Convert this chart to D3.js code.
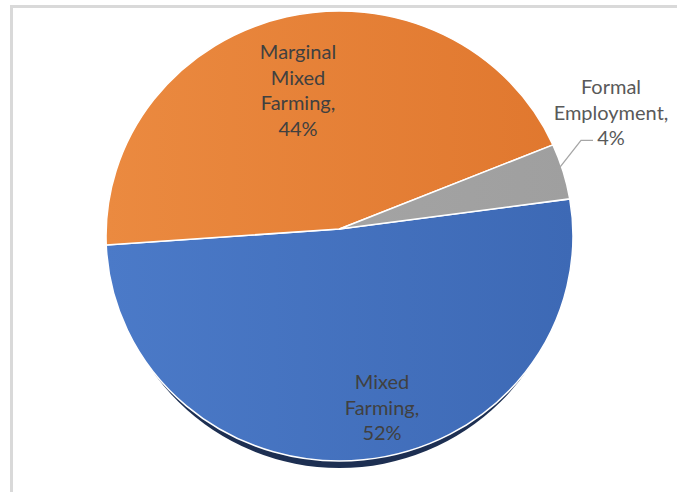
<!DOCTYPE html>
<html>
<head>
<meta charset="utf-8">
<script src="https://cdn.jsdelivr.net/npm/d3@7"></script>
<style>
  html, body { margin: 0; padding: 0; background: #fff; }
  svg { display: block; }
  .lbl { font-family: Lato, "Open Sans", sans-serif; font-size: 20px; }
</style>
</head>
<body>
<div class="chart_pie"></div>
<script>
// data
var categories = ["Mixed Farming", "Marginal Mixed Farming", "Formal Employment"];
var values = [52, 44, 4];
var labelLines = [["Mixed", "Farming,", "52%"], ["Marginal", "Mixed", "Farming,", "44%"], ["Formal", "Employment,", "4%"]];

var colors = [["#4b7ac8", "#3d69b5"], ["#eb8a40", "#e0772e"], ["#a8a8a8", "#9f9f9f"]];

var width = 677, height = 492;
var cx = 339.5, cy = 236, rx = 233.5, ry = 225;
var apexShift = -7;   // slices meet a little above the centre (tilted look)

// label anchors (centre of first line), in page pixels
var labelPos = [[382, 382], [298, 52], [611, 87]];
var lineGap = 25.7;

var svg = d3.select('.chart_pie').append("svg")
  .attr("width", width)
  .attr("height", height);

// chart area frame
svg.append("rect")
  .attr("x", 11.5).attr("y", 6.5)
  .attr("width", 700).attr("height", 500)
  .attr("fill", "none")
  .attr("stroke", "#d9d9d9")
  .attr("stroke-width", 3);

var defs = svg.append("defs");
colors.forEach(function(c, i) {
  var g = defs.append("linearGradient")
    .attr("id", "grad" + i)
    .attr("gradientUnits", "userSpaceOnUse")
    .attr("x1", -rx).attr("y1", 0).attr("x2", rx).attr("y2", 0);
  g.append("stop").attr("offset", "0%").attr("stop-color", c[0]);
  g.append("stop").attr("offset", "100%").attr("stop-color", c[1]);
});

var startA = 80.5 * Math.PI / 180;
var pie = d3.pie().sort(null).startAngle(startA).endAngle(startA + 2 * Math.PI);
var arcs = pie(values);

var sy = ry / rx;
var apexY = apexShift / sy;

// slice outline: apex -> rim -> arc along rim -> back to apex
function slicePath(d) {
  var p = d3.path();
  var a0 = d.startAngle - Math.PI / 2, a1 = d.endAngle - Math.PI / 2;
  p.moveTo(0, apexY);
  p.lineTo(rx * Math.cos(a0), rx * Math.sin(a0));
  p.arc(0, 0, rx, a0, a1);
  p.closePath();
  return p.toString();
}

// shadow under the pie, only shows along the bottom
svg.append("ellipse")
  .attr("cx", cx).attr("cy", cy + 7)
  .attr("rx", rx - 6).attr("ry", ry)
  .attr("fill", "#1d2f52");

var g = svg.append("g")
  .attr("transform", "translate(" + cx + "," + cy + ") scale(1," + sy + ")");

g.selectAll("path.slice")
  .data(arcs)
  .enter().append("path")
  .attr("class", "slice")
  .attr("d", slicePath)
  .attr("fill", function(d, i) { return "url(#grad" + i + ")"; })
  .attr("stroke", "#ffffff")
  .attr("stroke-width", 1.6)
  .attr("stroke-linejoin", "round");

// leader line for the small slice
var small = arcs[2];
var mid = (small.startAngle + small.endAngle) / 2;
var p0 = [cx + rx * 0.985 * Math.sin(mid), cy - ry * 0.985 * Math.cos(mid) - 5];
var lp = labelPos[2];
var elbow = [lp[0] - 30, lp[1] + 2 * lineGap + 2];
svg.append("polyline")
  .attr("points", [p0, elbow, [elbow[0] + 12, elbow[1]]].map(function(p) { return p.join(","); }).join(" "))
  .attr("fill", "none")
  .attr("stroke", "#a6a6a6")
  .attr("stroke-width", 1.3);

// labels
labelLines.forEach(function(lines, i) {
  var t = svg.append("text")
    .attr("class", "lbl")
    .attr("text-anchor", "middle")
    .attr("fill", i === 2 ? "#595959" : "#404040");
  lines.forEach(function(s, j) {
    t.append("tspan")
      .attr("x", labelPos[i][0])
      .attr("y", labelPos[i][1] + j * lineGap)
      .attr("dy", "0.35em")
      .text(s);
  });
});
</script>
</body>
</html>
